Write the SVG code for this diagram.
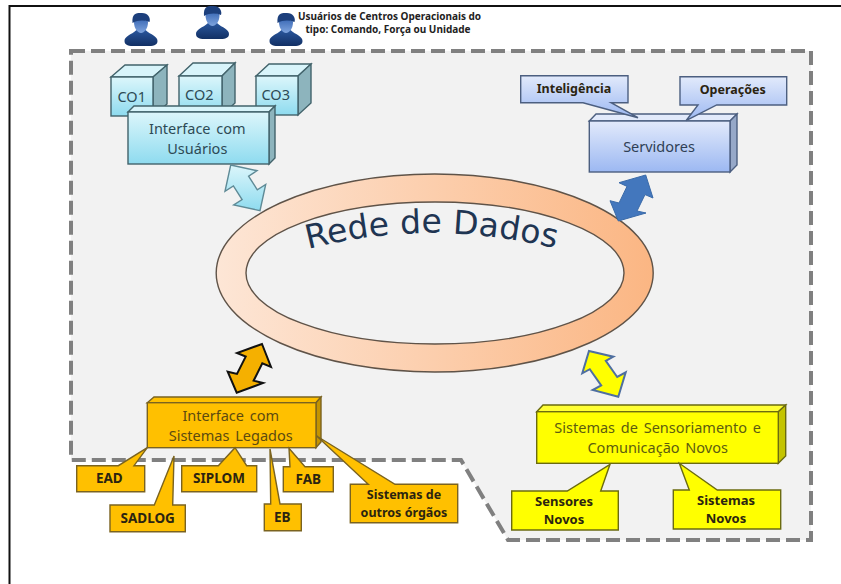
<svg xmlns="http://www.w3.org/2000/svg" xmlns:xlink="http://www.w3.org/1999/xlink" width="841" height="584" viewBox="0 0 841 584">
<style>
.t{font-family:"Noto Sans","Liberation Sans",sans-serif;text-anchor:middle}
.n{font-size:14.5px;word-spacing:2px}
.b{font-weight:700;font-size:12.5px;fill:#2b2410}
.c{font-size:13.5px}
.s{font-size:13px}
.cy{stroke:#42636b;stroke-width:1.4}
.bl{stroke:#4c5f80;stroke-width:1.4}
.or{stroke:#7a6320;stroke-width:1.4}
.ye{stroke:#6b6b10;stroke-width:1.4}
</style>
<defs>
<linearGradient id="gc" x1="0" y1="0" x2="0" y2="1"><stop offset="0" stop-color="#dcf6fb"/><stop offset="1" stop-color="#8edbef"/></linearGradient>
<linearGradient id="gb" x1="0" y1="0" x2="0" y2="1"><stop offset="0" stop-color="#e2eafb"/><stop offset="1" stop-color="#9cb8f2"/></linearGradient>
<linearGradient id="gr" x1="0" y1="0" x2="1" y2="0"><stop offset="0" stop-color="#fde6d6"/><stop offset="1" stop-color="#fbb683"/></linearGradient>
<linearGradient id="gp" x1="0" y1="0" x2="0" y2="1"><stop offset="0" stop-color="#2a569c"/><stop offset="1" stop-color="#123064"/></linearGradient>
<linearGradient id="gf" x1="0" y1="0" x2="0" y2="1"><stop offset="0" stop-color="#3f6db8"/><stop offset="1" stop-color="#7fa4de"/></linearGradient>
<symbol id="person" overflow="visible">
<path d="M-16.5 18C-16.5 13-10 12-4.5 7H4.5C10 12 16.5 13 16.5 18C16.5 24 8 23 0 23C-8 23-16.5 24-16.5 18Z" fill="url(#gp)"/>
<path d="M-7 -1C-7 -4 7 -4 7 -1C7 6 3 10 0 10C-3 10-7 6-7 -1Z" fill="url(#gf)"/>
<path d="M-8.5 0C-9.5 -11 -3 -10 1 -10C7 -10 10 -5 8.5 -1C3 -3 -3 -3 -8.5 0Z" fill="#1c3f7c"/>
</symbol>
<path id="arc" d="M308 249Q432 217 562 250"/>
</defs>
<rect width="841" height="584" fill="#fff"/>
<path d="M9.5 584V6H841" fill="none" stroke="#111" stroke-width="2"/>
<path id="frame" d="M71 51H811V540H508L461 460H71Z" fill="#f2f2f2" stroke="#808080" stroke-width="4" stroke-dasharray="14 6"/>

<g id="users">
<use xlink:href="#person" href="#person" x="141" y="23"/>
<use xlink:href="#person" href="#person" x="212.5" y="16"/>
<use xlink:href="#person" href="#person" x="286" y="23"/>
<text class="t" x="389.5" y="20" font-size="10" font-weight="700" fill="#222">Usuários de Centros Operacionais do</text>
<text class="t" x="388" y="33" font-size="10" font-weight="700" fill="#222">tipo: Comando, Força ou Unidade</text>
</g>

<g id="rede">
<ellipse cx="434.7" cy="273" rx="218.5" ry="99" fill="url(#gr)" stroke="#5f5348" stroke-width="1.4"/>
<ellipse cx="435" cy="273" rx="189" ry="71" fill="#f2f2f2" stroke="#5f5348" stroke-width="1.4"/>
<text font-family="'DejaVu Sans',sans-serif" font-size="33" fill="#1f3552"><textPath xlink:href="#arc" href="#arc" textLength="250">Rede de Dados</textPath></text>
</g>

<g id="co1">
<path class="cy" d="M111 77L125 65H167L153 77Z" fill="#d8f4fa"/><path class="cy" d="M153 77L167 65V104L153 116Z" fill="#8db4bd"/><rect class="cy" x="111" y="77" width="42" height="39" fill="url(#gc)"/>
<text class="t n" x="131.7" y="102" fill="#2d4a55">CO1</text></g>
<g id="co2">
<path class="cy" d="M179 76L193 63H235L222 76Z" fill="#d8f4fa"/><path class="cy" d="M222 76L235 63V103L222 115Z" fill="#8db4bd"/><rect class="cy" x="179" y="76" width="43" height="39" fill="url(#gc)"/>
<text class="t n" x="199.3" y="100" fill="#2d4a55">CO2</text></g>
<g id="co3">
<path class="cy" d="M256 76L269 64H311L298 76Z" fill="#d8f4fa"/><path class="cy" d="M298 76L311 64V103L298 115Z" fill="#8db4bd"/><rect class="cy" x="256" y="76" width="42" height="39" fill="url(#gc)"/>
<text class="t n" x="275.7" y="100" fill="#2d4a55">CO3</text></g>
<g id="interface-usuarios">
<path class="cy" d="M128 112L134 106H275L269 112Z" fill="#d8f4fa"/><path class="cy" d="M269 112L275 106V158L269 164Z" fill="#8db4bd"/><rect class="cy" x="128" y="112" width="141" height="52" fill="url(#gc)"/>
<text class="t n" x="197.3" y="133.5" fill="#2d4a55">Interface com</text><text class="t n" x="197.3" y="154" fill="#2d4a55">Usuários</text></g>

<g id="servidores">
<path class="bl" d="M589.3 121L596 114H737L730 121Z" fill="#e2eafb"/><path class="bl" d="M730 121L737 114V165L730 172Z" fill="#96a8c8"/><rect class="bl" x="589.3" y="121" width="140.7" height="51" fill="url(#gb)"/>
<text class="t n" x="659" y="151.7" fill="#2f3f55">Servidores</text></g>
<g id="inteligencia">
<path class="bl" d="M520.7 75.7H628V102.7H611L638 117.7L583 102.7H520.7Z" fill="url(#gb)"/>
<text class="t b" x="574" y="92.7">Inteligência</text></g>
<g id="operacoes">
<path class="bl" d="M680 76.7H786.7V105H716.7L686 120.7L698 105H680Z" fill="url(#gb)"/>
<text class="t b" x="732.7" y="94">Operações</text></g>

<g id="interface-legados">
<path class="or" d="M147.3 402.7L154 397H321L316 402.7Z" fill="#ffc000"/><path class="or" d="M316 402.7L321 397V442L316 447.7Z" fill="#c49400"/><rect class="or" x="147.3" y="402.7" width="168.7" height="45" fill="#ffc000"/>
<text class="t n" x="230.7" y="421" fill="#5c4a10">Interface com</text><text class="t n" x="230.7" y="441" fill="#5c4a10">Sistemas Legados</text></g>
<g id="ead"><path class="or" d="M76.7 465.7H118.3L147.3 447.7L134 465.7H144.7V491.7H76.7Z" fill="#ffc000"/><text class="t b c" x="109.3" y="483.3">EAD</text></g>
<g id="sadlog"><path class="or" d="M110 505H154.3L174 456L172.7 505H185.3V531.7H110Z" fill="#ffc000"/><text class="t b c" x="147.7" y="522.7">SADLOG</text></g>
<g id="siplom"><path class="or" d="M181.7 465.7H218.3L235 447.7L246.7 465.7H256.7V491.7H181.7Z" fill="#ffc000"/><text class="t b c" x="219" y="483.3">SIPLOM</text></g>
<g id="eb"><path class="or" d="M264.3 504H270.7L270 449L280 504H301.3V530.7H264.3Z" fill="#ffc000"/><text class="t b c" x="282.3" y="521.7">EB</text></g>
<g id="fab"><path class="or" d="M283.3 466.7H290L289 448.3L305 466.7H333.3V491.7H283.3Z" fill="#ffc000"/><text class="t b c" x="308.3" y="484">FAB</text></g>
<g id="outros"><path class="or" d="M350.3 484.3H368.3L316.7 436L395 484.3H457.7V522.7H350.3Z" fill="#ffc000"/><text class="t b" x="404" y="499">Sistemas de</text><text class="t b" x="404" y="516.7">outros órgãos</text></g>

<g id="sensoriamento">
<path class="ye" d="M536.7 411.7L543 405H785.7L778.3 411.7Z" fill="#ffff33"/><path class="ye" d="M778.3 411.7L785.7 405V456L778.3 463.3Z" fill="#c4c400"/><rect class="ye" x="536.7" y="411.7" width="241.6" height="51.6" fill="#ffff00"/>
<text class="t n" x="657.7" y="432.7" fill="#5c5c10">Sistemas de Sensoriamento e</text><text class="t n" x="657.7" y="453.3" fill="#5c5c10">Comunicação Novos</text></g>
<g id="sensores"><path class="ye" d="M511.7 491H567.3L610 464.3L600.7 491H618.3V530H511.7Z" fill="#ffff00"/><text class="t b s" x="564" y="506">Sensores</text><text class="t b s" x="564" y="523.7">Novos</text></g>
<g id="sistemas"><path class="ye" d="M673.3 490H689.3L679.3 463.3L717.3 490H780.7V529H673.3Z" fill="#ffff00"/><text class="t b s" x="726" y="505.3">Sistemas</text><text class="t b s" x="726" y="523">Novos</text></g>

<g id="connectors">
<polygon points="230.7,165 257,170.7 248.6,176.1 257.3,189.8 265.7,184.4 260,210.7 233.7,205 242.1,199.6 233.4,185.9 225,191.3" fill="url(#gc)" stroke="#5f8a96" stroke-width="1.4"/>
<polygon points="645.7,175 653,198 645,194.6 637,211 646,213 618.3,221 610,200.7 619,203 627,186.4 619,182.7" fill="#4377bd" stroke="#3a6aa8" stroke-width="1"/>
<polygon points="262,344 271,367 262.3,363.4 253.6,380.7 263,383 236.7,392.7 227.7,371.7 237,373.9 245.7,356.6 237,353" fill="#f5b000" stroke="#111" stroke-width="2"/>
<polygon points="589,351 613.3,356.7 605.8,360.8 617.2,377 625.7,372.3 618.3,396.7 592.7,390 601.2,385.4 589.8,369.2 582.3,373.3" fill="#ffff00" stroke="#4f6fa0" stroke-width="2"/>
</g>
</svg>
